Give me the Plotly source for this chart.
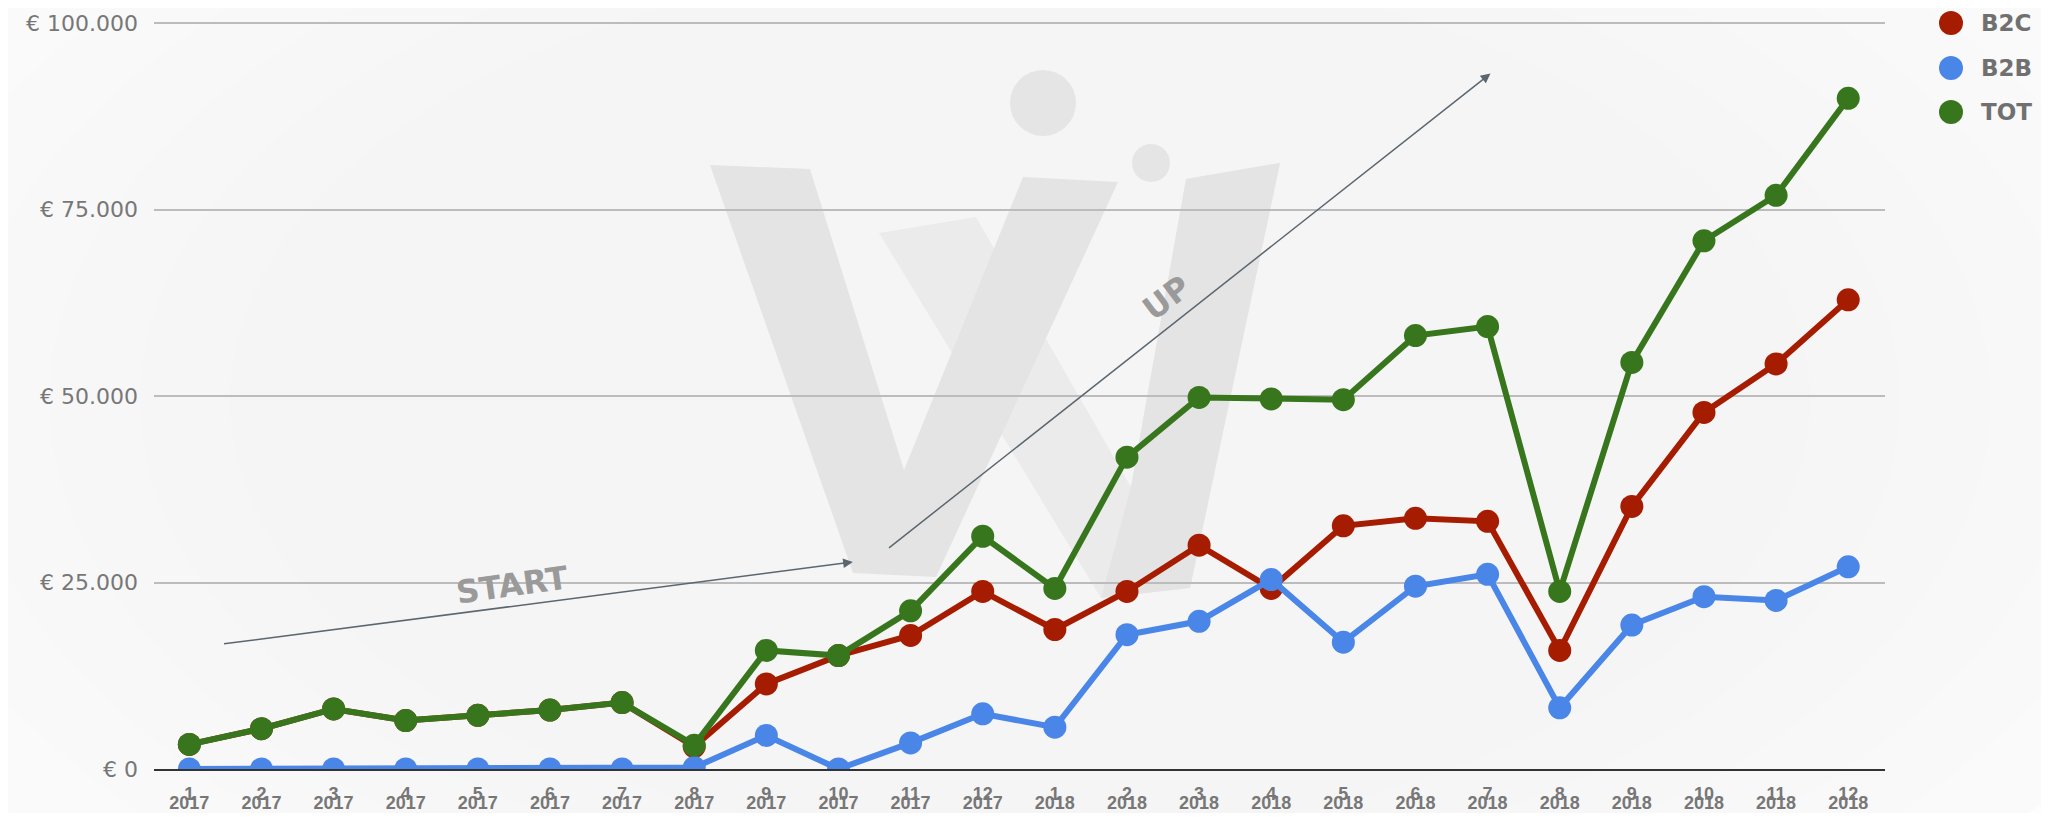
import plotly.graph_objects as go

# ---------------- data ----------------
months = ["1", "2", "3", "4", "5", "6", "7", "8", "9", "10", "11", "12",
          "1", "2", "3", "4", "5", "6", "7", "8", "9", "10", "11", "12"]
years = ["2017"] * 12 + ["2018"] * 12

b2c = [3300, 5400, 8050, 6500, 7200, 7900, 8900, 3000, 11400, 15200, 17900, 23800,
       18700, 23800, 30000, 24200, 32600, 33600, 33200, 15900, 35200, 47800, 54300, 62900]
b2b = [0, 0, 0, 0, 0, 0, 0, 200, 4500, 0, 3500, 7400,
       5600, 18000, 19800, 25400, 17000, 24500, 26100, 8200, 19300, 23100, 22600, 27100]
tot = [3300, 5400, 8050, 6500, 7200, 7900, 8900, 3200, 15900, 15200, 21200, 31200,
       24200, 41800, 49800, 49600, 49500, 58100, 59300, 23800, 54500, 70800, 76900, 89900]

series_names = ["B2C", "B2B", "TOT"]
series_values = [b2c, b2b, tot]
series_colors = ["#a61c00", "#4a86e8", "#38761d"]

y_ticks = [0, 25000, 50000, 75000, 100000]
y_tick_text = ["€ 0", "€ 25.000", "€ 50.000", "€ 75.000", "€ 100.000"]

# ---------------- layout geometry ----------------
# page has an 8px body margin, so the figure is 16px smaller than the window
OFF = 8
W, H = 2049 - 2 * OFF, 821 - 2 * OFF
ML, MR, MT, MB = 146, 156, 13, 44
PW, PH = W - ML - MR, H - MT - MB
Y_TOP = 100000 * PH / 746.0


def px(x):  # reference-window pixel -> paper
    return (x - OFF - ML) / PW


def py(y):
    return 1 - (y - OFF - MT) / PH


xs = list(range(len(months)))

fig = go.Figure()
for name, vals, col in zip(series_names, series_values, series_colors):
    fig.add_trace(go.Scatter(
        x=xs, y=vals, name=name, mode="lines+markers",
        line=dict(color=col, width=6),
        marker=dict(color=col, size=23),
        cliponaxis=True,
        showlegend=False,
    ))

# invisible trace on the year axis so it is rendered
fig.add_trace(go.Scatter(x=xs, y=[None] * len(xs), xaxis="x2", showlegend=False,
                         hoverinfo="skip"))

shapes = []
# background vignette
cx, cy = 1020, 400
for (rx, ry, c) in [(1250, 700, "#fafafa"), (1150, 640, "#f9f9f9"), (1060, 590, "#f8f8f8"),
                    (970, 540, "#f7f7f7"), (880, 490, "#f6f6f6"), (790, 440, "#f5f5f5")]:
    shapes.append(dict(type="circle", xref="paper", yref="paper", layer="below",
                       x0=px(cx - rx), x1=px(cx + rx), y0=py(cy + ry), y1=py(cy - ry),
                       fillcolor=c, line=dict(width=0)))


def poly(points, color):
    d = "M " + " L ".join(f"{px(a):.5f},{py(b):.5f}" for a, b in points) + " Z"
    return dict(type="path", xref="paper", yref="paper", layer="below", path=d,
                fillcolor=color, line=dict(width=0))


# watermark logo
shapes.append(poly([(879, 233), (976, 217), (1131, 487), (1186, 179), (1280, 163),
                    (1190, 588), (1101, 598)], "#ebebeb"))
shapes.append(poly([(1186, 179), (1280, 163), (1190, 588), (1101, 598), (1131, 487)], "#e4e4e4"))
shapes.append(poly([(710, 165), (810, 169), (904, 470), (1023, 177), (1118, 182),
                    (936, 577), (853, 573)], "#e4e4e4"))
for (ccx, ccy, r) in [(1043, 103, 33), (1151, 163, 19)]:
    shapes.append(dict(type="circle", xref="paper", yref="paper", layer="below",
                       x0=px(ccx - r), x1=px(ccx + r), y0=py(ccy + r), y1=py(ccy - r),
                       fillcolor="#e5e5e5", line=dict(width=0)))

annotations = []
# custom legend
leg_y = [23, 68, 112]
for name, col, yy in zip(series_names, series_colors, leg_y):
    shapes.append(dict(type="circle", xref="paper", yref="paper",
                       x0=px(1951 - 12), x1=px(1951 + 12), y0=py(yy + 12), y1=py(yy - 12),
                       fillcolor=col, line=dict(width=0)))
    annotations.append(dict(xref="paper", yref="paper", x=px(1979), y=py(yy),
                            xanchor="left", yanchor="middle", text=name, showarrow=False,
                            font=dict(family="DejaVu Sans", size=23, color="#707070",
                                      weight="bold")))

# arrows (data coordinates)
arrow_col = "#5b666e"
annotations.append(dict(x=9.2, y=27750, ax=0.46, ay=16750, xref="x", yref="y",
                        axref="x", ayref="y", text="", showarrow=True, arrowhead=2,
                        arrowsize=1.3, arrowwidth=1.5, arrowcolor=arrow_col,
                        standoff=0, startstandoff=0))
annotations.append(dict(x=18.04, y=93230, ax=9.68, ay=29490, xref="x", yref="y",
                        axref="x", ayref="y", text="", showarrow=True, arrowhead=2,
                        arrowsize=1.3, arrowwidth=1.5, arrowcolor=arrow_col,
                        standoff=0, startstandoff=0))
annotations.append(dict(x=4.48, y=24700, xref="x", yref="y", text="START", showarrow=False,
                        textangle=-8,
                        font=dict(family="DejaVu Sans", size=32, color="#9a9a9a", weight="bold")))
annotations.append(dict(x=13.55, y=63100, xref="x", yref="y", text="UP", showarrow=False,
                        textangle=-37,
                        font=dict(family="DejaVu Sans", size=32, color="#9a9a9a", weight="bold")))

tick_font = dict(family="Liberation Sans", size=18, color="#777777", weight="bold")

fig.update_layout(
    width=W, height=H,
    margin=dict(l=ML, r=MR, t=MT, b=MB, pad=0),
    paper_bgcolor="#fdfdfd",
    plot_bgcolor="rgba(0,0,0,0)",
    showlegend=False,
    shapes=shapes,
    annotations=annotations,
    xaxis=dict(range=[-0.49, 23.51], tickvals=xs, ticktext=months, showgrid=False,
               zeroline=False, showline=True, linecolor="#333333", linewidth=2,
               ticks="", tickfont=tick_font, ticklabelstandoff=7, fixedrange=True,
               automargin=False),
    xaxis2=dict(range=[-0.49, 23.51], tickvals=xs, ticktext=years, overlaying="x",
                anchor="y", side="bottom", showgrid=False, zeroline=False, showline=False,
                ticks="", tickfont=tick_font, ticklabelstandoff=21, fixedrange=True,
                automargin=False),
    yaxis=dict(range=[0, Y_TOP], tickvals=y_ticks, ticktext=y_tick_text, showgrid=True,
               gridcolor="#bcbcbc", gridwidth=1.5, zeroline=False, ticks="",
               ticklabelstandoff=15, automargin=False,
               tickfont=dict(family="DejaVu Sans", size=22, color="#777777"), fixedrange=True),
)

fig.write_html("out.html")
